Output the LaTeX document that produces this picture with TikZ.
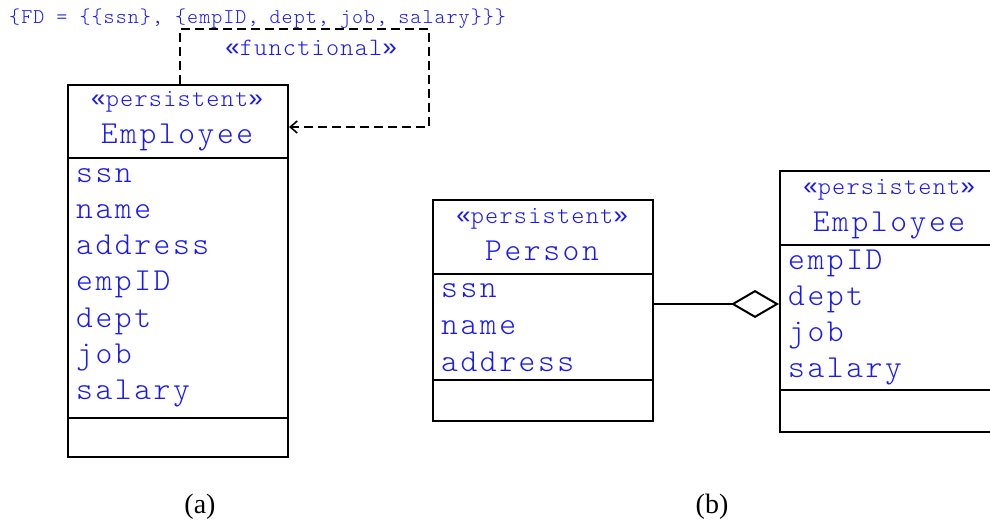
\documentclass[tikz,border=0pt]{standalone}
\usepackage{fontspec}
\setmainfont{Liberation Serif}
\newfontfamily\umlfont{lmmonolt10-regular.otf}[LetterSpace=8]
\newfontfamily\umlstfont{lmmonolt10-regular.otf}[LetterSpace=5]
\newfontfamily\guilfont{Liberation Mono}
\newcommand\stereotype[1]{{\guilfont«}#1{\guilfont»}}
\usetikzlibrary{arrows.meta}
\definecolor{umlblue}{RGB}{25,25,245}
\tikzset{
  compart/.style={draw, line width=2pt, inner sep=0pt, minimum width=220pt, anchor=north west},
  stereo/.style={font=\umlstfont\fontsize{25}{28}\selectfont, text=umlblue, inner sep=0pt, anchor=base},
  clsname/.style={font=\umlfont\fontsize{32}{36}\selectfont, text=umlblue, inner sep=0pt, anchor=base},
  attr/.style={font=\umlfont\fontsize{32}{36}\selectfont, text=umlblue, inner sep=0pt, anchor=base west},
  note/.style={font=\umlstfont\fontsize{21}{24}\selectfont, text=umlblue, inner sep=0pt, anchor=base west},
  caption/.style={font=\fontsize{28}{32}\selectfont, inner sep=0pt, anchor=base},
  depline/.style={line width=2pt, dash pattern=on 9pt off 5pt},
}
\begin{document}
\begin{tikzpicture}[x=1pt, y=-1pt]
\useasboundingbox (0,0) rectangle (990,525);

% ---------- (a) single persistent class with functional dependency ----------
\node[compart, minimum height=73pt]  (aHead) at (67,84)  {};
\node[compart, minimum height=260pt] (aAttr) at (67,157) {};
\node[compart, minimum height=39pt]  (aOps)  at (67,417) {};
\node[stereo]  (aSt)   at (177,106) {\stereotype{persistent}};
\node[clsname] (aName) at (177,143) {Employee};
\foreach \t [count=\i from 0] in {ssn,name,address,empID,dept,job,salary}
  \node[attr] (aA\i) at (76,182+36.3*\i) {\t};

\node[note] (fd) at (9,23) {\{FD = \{\{ssn\}, \{empID,\kern-1pt{} dept,\kern-1pt{} job,\kern-1pt{} salary\}\}\}};
\coordinate (dTop)   at (180,29);
\coordinate (dRight) at (429,29);
\coordinate (dEnd)   at (429,127);
\draw[depline, -{Straight Barb[length=7pt,width=12pt,line width=1.6pt]}]
  (aHead.north -| dTop) -- (dTop) -- (dRight) -- (dEnd) -- (aHead.east |- dEnd);
\node[stereo] (func) at (311,55) {\stereotype{functional}};

\node[caption] (capA) at (200,513) {(a)};

% ---------- (b) Person aggregated into Employee ----------
\node[compart, minimum height=74pt]  (pHead) at (432,199) {};
\node[compart, minimum height=106pt] (pAttr) at (432,273) {};
\node[compart, minimum height=41pt]  (pOps)  at (432,379) {};
\node[stereo]  (pSt)   at (542,223) {\stereotype{persistent}};
\node[clsname] (pName) at (542,260) {Person};
\foreach \t [count=\i from 0] in {ssn,name,address}
  \node[attr] (pA\i) at (441,297+37*\i) {\t};

\node[compart, minimum height=74pt]  (eHead) at (779,170) {};
\node[compart, minimum height=145pt] (eAttr) at (779,244) {};
\node[compart, minimum height=42pt]  (eOps)  at (779,389) {};
\node[stereo]  (eSt)   at (889,194) {\stereotype{persistent}};
\node[clsname] (eName) at (889,231) {Employee};
\foreach \t [count=\i from 0] in {empID,dept,job,salary}
  \node[attr] (eA\i) at (788,269+36.3*\i) {\t};

\coordinate (aggY) at (0,304);
\draw[line width=2pt, -{Diamond[open,length=48pt,width=28pt,line width=2pt]}]
  (pAttr.east |- aggY) -- (eAttr.west |- aggY);

\node[caption] (capB) at (712,513) {(b)};
\end{tikzpicture}
\end{document}
